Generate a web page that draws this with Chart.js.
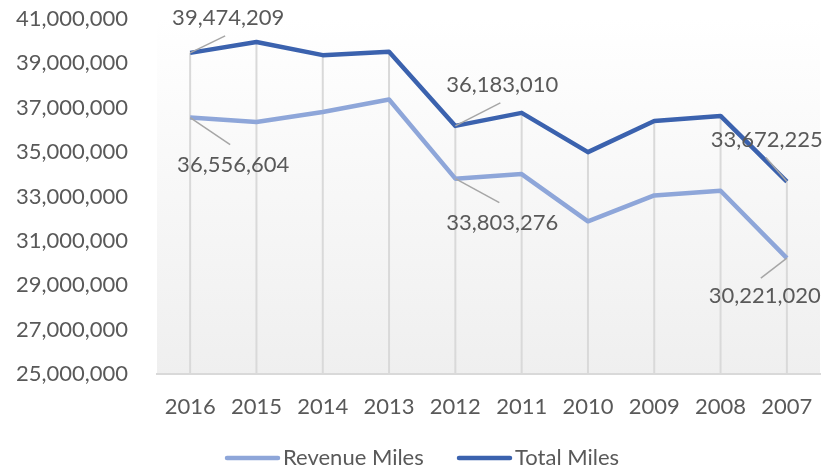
<!DOCTYPE html>
<html>
<head>
<meta charset="utf-8">
<script src="https://cdn.jsdelivr.net/npm/chart.js@4.4.1/dist/chart.umd.min.js"></script>
<style>
  html, body { margin: 0; padding: 0; background: #fff; }
  #wrap { width: 823px; height: 469px; }
</style>
</head>
<body>
<div id="wrap"><canvas id="milesChart" width="823" height="469"></canvas></div>
<script>
// ------------------------------------------------------------------
//  Data
// ------------------------------------------------------------------
const years = ['2016', '2015', '2014', '2013', '2012', '2011', '2010', '2009', '2008', '2007'];
const revenueMiles = [36556604, 36360000, 36810000, 37370000, 33803276, 34010000, 31880000, 33050000, 33260000, 30221020];
const totalMiles   = [39474209, 39960000, 39370000, 39520000, 36183010, 36770000, 35000000, 36400000, 36630000, 33672225];
const yMin = 25000000;
const yMax = 41000000;
const yStep = 2000000;
const labeledPoints = [0, 4, 9];   // which years carry a value label

const TEXT = '#595959';
const GRID = '#d9d9d9';
const REV_COLOR = '#8ea6d9';
const TOT_COLOR = '#3b62ae';

// label placement relative to the point: [textDx, textDy, leaderDx, leaderDy]
const labelOffsets = {
    0: { 0: [43, 47, 40, 27], 4: [47, 44, 44, 24], 9: [-22, 38, -26, 20] },   // Revenue
    1: { 0: [38, -35, 35, -17], 4: [47, -41, 45, -23], 9: [-20, -42, -21, -24] } // Total
};

const fmt = v => Math.round(v).toLocaleString('en-US');

// ------------------------------------------------------------------
//  Plugins
// ------------------------------------------------------------------
const plotBackground = {
    id: 'plotBackground',
    beforeDraw(chart) {
        const { ctx, chartArea: a } = chart;
        const g = ctx.createLinearGradient(0, a.top, 0, a.bottom);
        g.addColorStop(0, '#ffffff');
        g.addColorStop(1, '#efefef');
        ctx.save();
        ctx.fillStyle = g;
        ctx.fillRect(a.left, a.top, a.right - a.left, a.bottom - a.top);
        ctx.restore();
    }
};

// Excel-style drop lines from the highest point down to the axis
const dropLines = {
    id: 'dropLines',
    beforeDatasetsDraw(chart) {
        const { ctx, chartArea: a } = chart;
        const x = chart.scales.x, y = chart.scales.y;
        ctx.save();
        ctx.strokeStyle = GRID;
        ctx.lineWidth = 2;
        years.forEach((yr, i) => {
            const top = Math.max(...chart.data.datasets.map(d => d.data[i]));
            const px = x.getPixelForValue(i);
            ctx.beginPath();
            ctx.moveTo(px, y.getPixelForValue(top));
            ctx.lineTo(px, a.bottom);
            ctx.stroke();
        });
        ctx.restore();
    }
};

const valueLabels = {
    id: 'valueLabels',
    afterDatasetsDraw(chart) {
        const { ctx } = chart;
        ctx.save();
        chart.data.datasets.forEach((ds, di) => {
            const meta = chart.getDatasetMeta(di);
            labeledPoints.forEach(i => {
                const pt = meta.data[i];
                const o = labelOffsets[di][i];
                ctx.strokeStyle = '#a6a6a6';
                ctx.lineWidth = 1.5;
                ctx.beginPath();
                ctx.moveTo(pt.x, pt.y);
                ctx.lineTo(pt.x + o[2], pt.y + o[3]);
                ctx.stroke();
                ctx.fillStyle = TEXT;
                ctx.font = '22px Lato';
                ctx.textAlign = 'center';
                ctx.textBaseline = 'middle';
                ctx.fillText(fmt(ds.data[i]), pt.x + o[0], pt.y + o[1]);
            });
        });
        ctx.restore();
    }
};

const bottomLegend = {
    id: 'bottomLegend',
    afterDraw(chart) {
        const { ctx } = chart;
        const spots = [225, 457];
        const ly = 458;
        ctx.save();
        chart.data.datasets.forEach((ds, di) => {
            const x0 = spots[di];
            ctx.strokeStyle = ds.borderColor;
            ctx.lineWidth = 4.5;
            ctx.lineCap = 'round';
            ctx.beginPath();
            ctx.moveTo(x0 + 2, ly);
            ctx.lineTo(x0 + 53, ly);
            ctx.stroke();
            ctx.fillStyle = TEXT;
            ctx.font = '22px Lato';
            ctx.textAlign = 'left';
            ctx.textBaseline = 'middle';
            ctx.fillText(ds.label, x0 + 58, ly);
        });
        ctx.restore();
    }
};

// ------------------------------------------------------------------
//  Chart
// ------------------------------------------------------------------
Chart.defaults.font.family = 'Lato';
Chart.defaults.font.size = 22;
Chart.defaults.color = TEXT;

new Chart(document.getElementById('milesChart'), {
    type: 'line',
    data: {
        labels: years,
        datasets: [
            { label: 'Revenue Miles', data: revenueMiles, borderColor: REV_COLOR, backgroundColor: REV_COLOR,
              borderWidth: 4.5, pointRadius: 0, tension: 0, borderJoinStyle: 'round' },
            { label: 'Total Miles', data: totalMiles, borderColor: TOT_COLOR, backgroundColor: TOT_COLOR,
              borderWidth: 4.5, pointRadius: 0, tension: 0, borderJoinStyle: 'round' }
        ]
    },
    options: {
        responsive: false,
        animation: false,
        layout: { padding: { left: 0, right: 3, top: 19, bottom: 0 } },
        plugins: { legend: { display: false }, tooltip: { enabled: false } },
        scales: {
            x: {
                offset: true,
                grid: { display: false, drawTicks: false },
                border: { display: true, color: GRID, width: 2 },
                ticks: { padding: 20, maxRotation: 0, autoSkip: false },
                afterFit(s) { s.height = 95; s.paddingLeft = 0; s.paddingRight = 0; }
            },
            y: {
                min: yMin,
                max: yMax,
                grid: { display: false, drawTicks: false },
                border: { display: false },
                ticks: { stepSize: yStep, padding: 29, callback: v => fmt(v) },
                afterFit(s) { s.width = 157; s.paddingTop = 0; s.paddingBottom = 0; }
            }
        }
    },
    plugins: [plotBackground, dropLines, valueLabels, bottomLegend]
});
</script>
</body>
</html>
